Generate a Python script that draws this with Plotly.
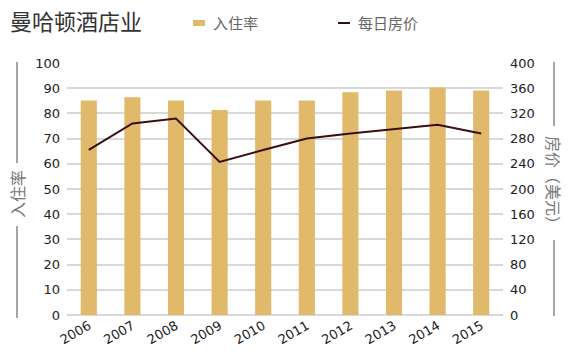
import plotly.graph_objects as go

years = ["2006", "2007", "2008", "2009", "2010", "2011", "2012", "2013", "2014", "2015"]
occupancy = [85.1, 86.4, 85.1, 81.3, 85.1, 85.1, 88.4, 89.1, 90.3, 89.1]
room_rate = [262, 304, 312, 243, 262, 280, 288, 295, 302, 288]
left_ticks = [0, 10, 20, 30, 40, 50, 60, 70, 80, 90, 100]
right_ticks = [0, 40, 80, 120, 160, 200, 240, 280, 320, 360, 400]

GOLD = "#E0B96A"
BROWN = "#3A0E0E"
FONT = "DejaVu Sans, Noto Sans CJK SC, sans-serif"
CJK = "Noto Sans CJK SC, sans-serif"

fig = go.Figure()
fig.add_trace(go.Bar(x=years, y=occupancy, name="入住率", marker_color=GOLD,
                     marker_line_width=0, yaxis="y", showlegend=False))
fig.add_trace(go.Scatter(x=years, y=room_rate, name="每日房价", mode="lines",
                         line=dict(color=BROWN, width=2), yaxis="y2", showlegend=False))

grid = "#D9D9D9"
fig.update_layout(
    width=568, height=355,
    margin=dict(l=67, r=65, t=63, b=40),
    paper_bgcolor="white", plot_bgcolor="white",
    bargap=0.63,
    font=dict(family=FONT, size=13, color="#222"),
    title=dict(text="曼哈顿酒店业", x=10/568, xanchor="left", y=1-22/355, yanchor="middle",
               font=dict(family=CJK, size=22, color="#333")),
    xaxis=dict(type="category", tickangle=-30, showgrid=False, showline=False,
               ticks="", tickfont=dict(size=13, color="#222"), automargin=False),
    yaxis=dict(range=[0, 100], tickvals=left_ticks, showgrid=True, gridcolor=grid, gridwidth=1.5,
               zeroline=True, zerolinecolor=grid, zerolinewidth=1.5, showline=False, ticks="",
               ticklabelstandoff=6, automargin=False),
    yaxis2=dict(range=[0, 400], tickvals=right_ticks, overlaying="y", side="right",
                showgrid=False, zeroline=False, showline=False, ticks="",
                ticklabelstandoff=6, automargin=False),
)

def px2x(px):
    return (px - 67) / 436

def px2y(py):
    return (315 - py) / 252

shapes = [
    # legend swatches
    dict(type="rect", xref="paper", yref="paper", x0=px2x(193), x1=px2x(205),
         y0=px2y(26), y1=px2y(20), fillcolor=GOLD, line_width=0),
    dict(type="line", xref="paper", yref="paper", x0=px2x(338), x1=px2x(350),
         y0=px2y(23), y1=px2y(23), line=dict(color=BROWN, width=2)),
    # left axis title decorative lines
    dict(type="line", xref="paper", yref="paper", x0=px2x(17), x1=px2x(17),
         y0=px2y(62), y1=px2y(163), line=dict(color="#888", width=1.5)),
    dict(type="line", xref="paper", yref="paper", x0=px2x(17), x1=px2x(17),
         y0=px2y(226), y1=px2y(318), line=dict(color="#888", width=1.5)),
    # right axis title decorative lines
    dict(type="line", xref="paper", yref="paper", x0=px2x(554), x1=px2x(554),
         y0=px2y(62), y1=px2y(126), line=dict(color="#888", width=1.5)),
    dict(type="line", xref="paper", yref="paper", x0=px2x(554), x1=px2x(554),
         y0=px2y(240), y1=px2y(316), line=dict(color="#888", width=1.5)),
]
fig.update_layout(shapes=shapes)

anns = [
    dict(text="入住率", x=px2x(211), y=px2y(23), xanchor="left", yanchor="middle",
         font=dict(family=CJK, size=15, color="#666")),
    dict(text="每日房价", x=px2x(356), y=px2y(23), xanchor="left", yanchor="middle",
         font=dict(family=CJK, size=15, color="#666")),
    dict(text="入住率", x=px2x(17), y=px2y(194), textangle=-90, xanchor="center", yanchor="middle",
         font=dict(family=CJK, size=16, color="#777")),
    dict(text="房价（美元）", x=px2x(554), y=px2y(184), textangle=90, xanchor="center", yanchor="middle",
         font=dict(family=CJK, size=16, color="#777")),
]
for a in anns:
    a.update(xref="paper", yref="paper", showarrow=False)
fig.update_layout(annotations=anns)

fig.write_html("out.html", config={"displayModeBar": False},
               post_script="document.body.style.margin='0';document.body.style.padding='0';")
